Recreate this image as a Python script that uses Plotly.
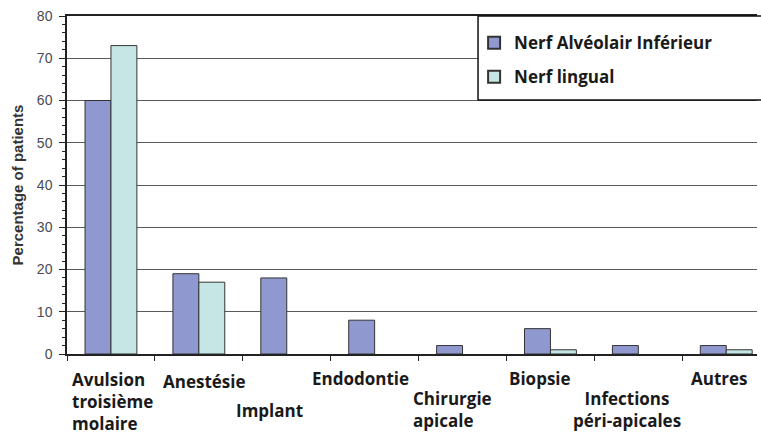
import plotly.graph_objects as go

categories = ["Avulsion troisième molaire", "Anestésie", "Implant", "Endodontie",
              "Chirurgie apicale", "Biopsie", "Infections péri-apicales", "Autres"]
tick_labels = ["Avulsion<br>troisième<br>molaire", "Anestésie", "Implant", "Endodontie",
               "Chirurgie<br>apicale", "Biopsie", "Infections<br>péri-apicales", "Autres"]
nerf_alveolaire = [60, 19, 18, 8, 2, 6, 2, 2]
nerf_lingual = [73, 17, 0, 0, 0, 1, 0, 1]
series_names = ["Nerf Alvéolair Inférieur", "Nerf lingual"]

# label placement (pixel offsets relative to category centre / y=0)
label_style = [
    dict(xshift=2, yshift=-47, align="left"),
    dict(xshift=6, yshift=-27, align="center"),
    dict(xshift=-17, yshift=-56, align="center"),
    dict(xshift=-14, yshift=-24, align="center"),
    dict(xshift=-10, yshift=-55, align="left"),
    dict(xshift=-10, yshift=-24, align="center"),
    dict(xshift=-11, yshift=-55, align="center"),
    dict(xshift=-7, yshift=-24, align="center"),
]


def outline(vals):
    return [1 if v else 0 for v in vals]


fig = go.Figure()
fig.add_trace(go.Bar(x=categories, y=nerf_alveolaire, name=series_names[0],
                     legendgroup="a",
                     marker=dict(color="#9099cf",
                                 line=dict(color="#333333", width=outline(nerf_alveolaire)))))
fig.add_trace(go.Bar(x=categories, y=nerf_lingual, name=series_names[1],
                     legendgroup="b",
                     marker=dict(color="#c5e6e4",
                                 line=dict(color="#333333", width=outline(nerf_lingual)))))

annotations = []
for cat, lab, st in zip(categories, tick_labels, label_style):
    annotations.append(dict(x=cat, y=0, xref="x", yref="y", text="<b>" + lab + "</b>",
                            showarrow=False, xanchor="center", yanchor="middle",
                            xshift=st["xshift"], yshift=st["yshift"], align=st["align"],
                            font=dict(family="Open Sans", size=17, color="#1a1a1a")))

fig.update_layout(
    width=761, height=434,
    margin=dict(l=67, r=4, t=16, b=80),
    paper_bgcolor="white", plot_bgcolor="white",
    barmode="group", bargap=0.41, bargroupgap=0,
    showlegend=True,
    legend=dict(x=0.59, y=0.973, xanchor="left", yanchor="top",
                bgcolor="rgba(0,0,0,0)", borderwidth=0,
                traceorder="grouped", tracegroupgap=9,
                font=dict(family="Open Sans", size=17, color="#1a1a1a", weight="bold"),
                itemsizing="constant"),
    annotations=annotations,
    shapes=[dict(type="rect", xref="paper", yref="paper", x0=0.5957, x1=1.05,
                 y0=0.7515, y1=1.0, fillcolor="white",
                 line=dict(color="#111111", width=1.5), layer="above")],
    xaxis=dict(type="category", range=[-0.5, 7.35], showticklabels=False, automargin=False,
               showline=True, linecolor="#222222", linewidth=1.5, mirror=True,
               ticks="outside", tickson="boundaries", ticklen=5, tickcolor="#222222",
               showgrid=False),
    yaxis=dict(range=[0, 80], dtick=10, showline=True, linecolor="#222222", linewidth=1.5,
               automargin=False,
               ticks="outside", ticklen=6, tickcolor="#222222", ticklabelstandoff=4,
               minor=dict(dtick=2, ticks="outside", ticklen=3, tickcolor="#222222", showgrid=False),
               showgrid=True, gridcolor="#5a5a5a", gridwidth=1, zeroline=False,
               tickfont=dict(family="Liberation Sans", size=14, color="#4a4a55"),
               title=dict(text="<b>Percentage of patients</b>", standoff=10,
                          font=dict(family="Liberation Sans", size=15, color="#333333"))),
)

fig.write_html("out.html", config={"displayModeBar": False},
               post_script="document.body.style.margin='0';")
